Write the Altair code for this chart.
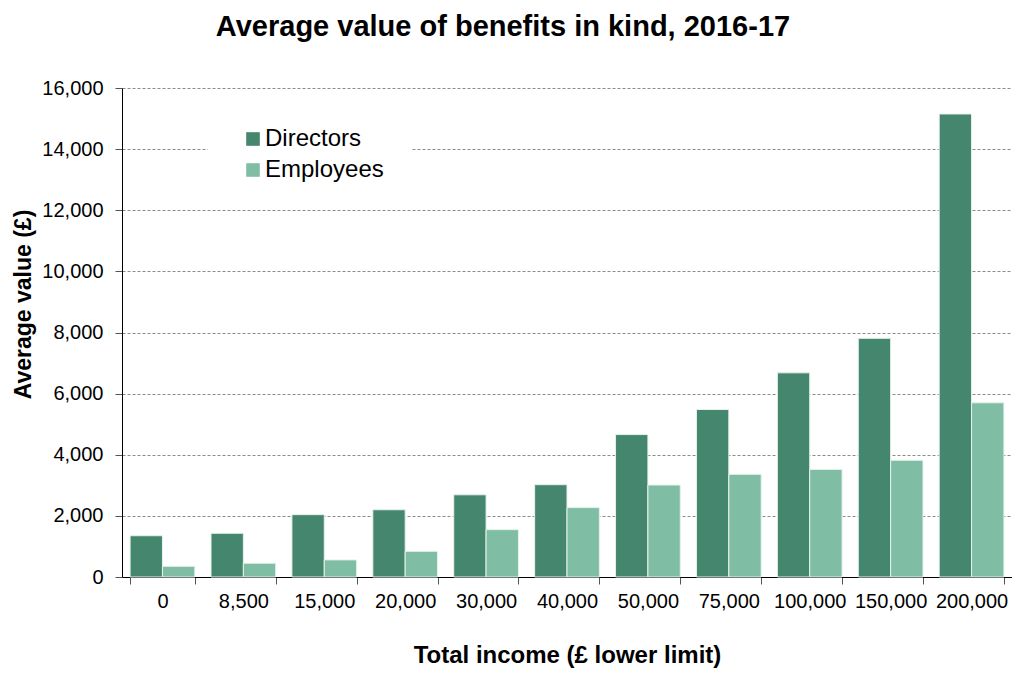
import altair as alt
import pandas as pd

categories = ["0", "8,500", "15,000", "20,000", "30,000", "40,000", "50,000",
              "75,000", "100,000", "150,000", "200,000"]
directors = [1350, 1430, 2040, 2200, 2690, 3020, 4660, 5480, 6680, 7810, 15150]
employees = [350, 450, 560, 840, 1550, 2270, 3010, 3360, 3520, 3820, 5700]
series = ["Directors", "Employees"]
colors = ["#45866e", "#7fbea5"]

rows = []
for i, c in enumerate(categories):
    rows.append({"income": c, "group": series[0], "value": directors[i]})
    rows.append({"income": c, "group": series[1], "value": employees[i]})
df = pd.DataFrame(rows)

FONT = "Liberation Sans"

chart = alt.Chart(df).mark_bar(stroke="#e6f2ec", strokeWidth=1).encode(
    x=alt.X("income:N", sort=categories,
            scale=alt.Scale(paddingInner=0.2, paddingOuter=0.1),
            axis=alt.Axis(title="Total income (£ lower limit)", labelAngle=0,
                          tickBand="extent", tickSize=7, tickColor="#555555",
                          domainColor="#000000", labelPadding=7,
                          titlePadding=32, labelFontSize=20, titleFontSize=24,
                          labelColor="#000000", titleColor="#000000")),
    xOffset=alt.XOffset("group:N", sort=series,
                        scale=alt.Scale(paddingInner=0, paddingOuter=0)),
    y=alt.Y("value:Q", scale=alt.Scale(domain=[0, 16000], nice=False),
            axis=alt.Axis(title="Average value (£)", values=list(range(0, 16001, 2000)),
                          format=",d", tickSize=7, tickColor="#555555",
                          domainColor="#000000", labelPadding=12,
                          labelFontSize=20, titleFontSize=23,
                          labelColor="#000000", titleColor="#000000",
                          grid=True, gridColor="#8a8a8a", gridDash=[3, 2],
                          gridWidth=1, titleX=-99, titleY=216,
                          titleAngle=-90, titleBaseline="middle", titleAlign="center")),
    color=alt.Color("group:N", sort=series,
                    scale=alt.Scale(domain=series, range=colors),
                    legend=alt.Legend(title=None, orient="none", legendX=86, legendY=11,
                                      padding=28, fillColor="#ffffff",
                                      symbolType="square", symbolSize=185,
                                      symbolOffset=5,
                                      symbolStrokeWidth=0, labelFontSize=24,
                                      labelColor="#000000", rowPadding=7,
                                      labelOffset=0)),
).properties(
    width=890,
    height=489,
    autosize=alt.AutoSizeParams(type="none"),
    padding={"left": 114, "top": 80, "right": 0, "bottom": 91},
    title=alt.TitleParams("Average value of benefits in kind, 2016-17",
                          fontSize=29, fontWeight="bold", color="#000000",
                          font=FONT, dx=-64, offset=36, anchor="middle"),
).configure(font=FONT).configure_view(stroke=None).configure_axis(
    labelFont=FONT, titleFont=FONT, titleFontWeight="bold"
).configure_legend(labelFont=FONT)

chart.save("out.html", embed_options={"renderer": "svg", "actions": False})
